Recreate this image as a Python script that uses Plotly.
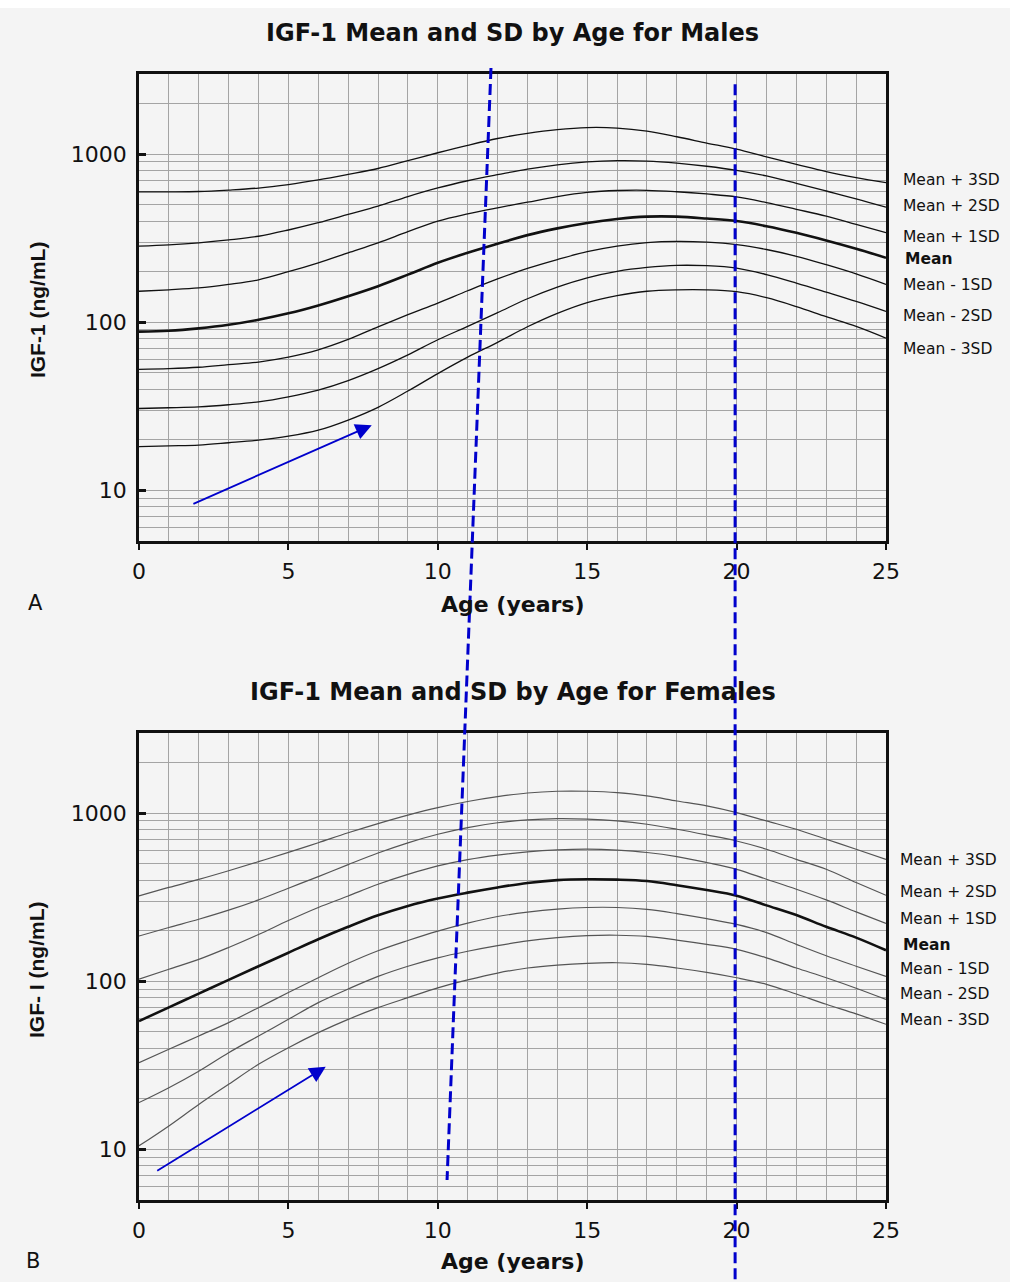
import plotly.graph_objects as go
import math

# ---------------- data ----------------
ages = list(range(0, 26))

male_p3 = [596, 597, 600, 612, 629, 660, 703, 758, 822, 915, 1020, 1130, 1240, 1330, 1400, 1440,
           1430, 1370, 1270, 1165, 1071, 964, 871, 788, 726, 678]
male_p2 = [284, 289, 297, 309, 325, 354, 391, 438, 491, 560, 630, 695, 755, 815, 865, 900,
           915, 910, 885, 848, 802, 742, 671, 604, 543, 484]
male_p1 = [153, 156, 160, 168, 179, 200, 226, 259, 297, 346, 400, 442, 480, 518, 559, 592,
           608, 610, 598, 580, 557, 515, 470, 428, 382, 341]
male_mean = [88, 89, 92, 96.6, 103.5, 113, 126, 143, 164, 192, 226, 259, 293, 330, 362, 390,
             412, 425, 425, 414, 400, 373, 341, 307, 274, 242]
male_m1 = [52.5, 53, 54, 56, 58, 62, 68.5, 79, 94, 111, 130, 154, 181, 209, 236, 263,
           284, 298, 303, 300, 290, 271, 247, 220, 194, 168]
male_m2 = [30.7, 31, 31.4, 32.3, 33.6, 36, 39.5, 45, 53, 64, 78.7, 94.5, 114, 138, 162, 184,
           201, 212, 218, 217, 210, 192, 171, 151, 133, 116]
male_m3 = [18.2, 18.4, 18.6, 19.2, 19.9, 21, 22.8, 26.2, 31.2, 39, 49.5, 62, 76, 94, 113, 131,
           144, 153, 156, 156, 152, 140, 124, 108, 94.5, 80.5]

female_p3 = [322, 362, 404, 455, 515, 585, 668, 765, 868, 975, 1080, 1175, 1255, 1320, 1352, 1352,
             1328, 1268, 1183, 1106, 1009, 900, 803, 700, 611, 532]
female_p2 = [186, 209, 234, 265, 305, 358, 420, 495, 580, 667, 750, 822, 878, 912, 928, 922,
             900, 860, 803, 743, 684, 611, 532, 464, 387, 325]
female_p1 = [103, 118, 135, 159, 190, 230, 275, 322, 378, 433, 486, 530, 564, 589, 605, 611,
             603, 584, 552, 509, 464, 405, 353, 305, 259, 221]
female_mean = [58, 70, 84.5, 102, 123, 148, 178, 211, 247, 281, 311, 337, 362, 385, 400, 405,
               403, 395, 373, 349, 323, 283, 248, 211, 182, 153]
female_m1 = [32.8, 39.4, 47.3, 56.8, 69.7, 85.7, 105, 128, 152, 175, 199, 222, 243, 258, 269, 275,
             275, 268, 253, 236, 218, 195, 166, 142, 123, 107]
female_m2 = [19, 23.3, 29.2, 37.6, 47.3, 59.4, 74.7, 90, 107, 123, 138, 151, 163, 174, 182, 187,
             188, 185, 176, 166, 155, 138, 120, 105, 91, 78]
female_m3 = [10.5, 13.8, 18.5, 24.4, 32.1, 40.3, 49.5, 59.4, 69.7, 80, 91.5, 102, 112, 120, 125, 128,
             129, 126, 120, 113, 105, 96, 84, 73, 64, 55.5]

series_names = ["Mean + 3SD", "Mean + 2SD", "Mean + 1SD", "Mean", "Mean - 1SD", "Mean - 2SD", "Mean - 3SD"]
male_series = [male_p3, male_p2, male_p1, male_mean, male_m1, male_m2, male_m3]
female_series = [female_p3, female_p2, female_p1, female_mean, female_m1, female_m2, female_m3]

x_tick_vals = [0, 5, 10, 15, 20, 25]
y_tick_vals = [10, 100, 1000]
y_minor_vals = [m * 10 ** e for e in range(0, 4) for m in range(1, 10) if 5 <= m * 10 ** e <= 3000]

# ---------------- styling ----------------
BG = "#f4f4f4"
GRID = "#a4a4a4"
BLUE = "#0000cc"
FONT = "DejaVu Sans"

fig = go.Figure()

for name, vals in zip(series_names, male_series):
    is_mean = name == "Mean"
    fig.add_trace(go.Scatter(x=ages, y=vals, mode="lines", line_shape="spline", name=name,
                             line=dict(color="#111111", width=2.6 if is_mean else 1.3, smoothing=1.0),
                             xaxis="x", yaxis="y", showlegend=False))
for name, vals in zip(series_names, female_series):
    is_mean = name == "Mean"
    fig.add_trace(go.Scatter(x=ages, y=vals, mode="lines", line_shape="spline", name=name,
                             line=dict(color="#111111" if is_mean else "#555555",
                                       width=2.6 if is_mean else 1.2, smoothing=1.0),
                             xaxis="x2", yaxis="y2", showlegend=False))

def xaxis_cfg(anchor):
    return dict(anchor=anchor, domain=[0, 1], range=[0, 25], tickvals=x_tick_vals,
                ticks="outside", ticklen=6, tickwidth=1.5, tickcolor="#111",
                showgrid=True, gridcolor=GRID, gridwidth=1,
                minor=dict(dtick=1, showgrid=True, gridcolor=GRID, gridwidth=1, ticks=""),
                showline=True, linecolor="#111", linewidth=2.5, mirror=True,
                tickfont=dict(family=FONT, size=22, color="#111"), ticklabelstandoff=3,
                zeroline=False)

def yaxis_cfg(anchor, domain):
    return dict(anchor=anchor, domain=domain, type="log",
                range=[math.log10(5), math.log10(3000)],
                tickvals=y_tick_vals, ticktext=[str(v) for v in y_tick_vals],
                ticks="inside", ticklen=7, tickwidth=3, tickcolor="#111",
                showgrid=True, gridcolor=GRID, gridwidth=1,
                minor=dict(tickvals=y_minor_vals, showgrid=True, gridcolor=GRID, gridwidth=1, ticks=""),
                showline=True, linecolor="#111", linewidth=2.5, mirror=True,
                tickfont=dict(family=FONT, size=22, color="#111"), ticklabelstandoff=5,
                zeroline=False)

fig.update_layout(
    width=1010, height=1282,
    margin=dict(l=139, r=124, t=74, b=82),
    paper_bgcolor=BG, plot_bgcolor=BG,
    showlegend=False,
    xaxis=xaxis_cfg("y"),
    yaxis=yaxis_cfg("x", [0.5853, 1.0]),
    xaxis2=xaxis_cfg("y2"),
    yaxis2=yaxis_cfg("x2", [0.0, 0.4147]),
)

annotations = []
# titles
annotations.append(dict(text="<b>IGF-1 Mean and SD by Age for Males</b>", xref="paper", yref="paper",
                        x=0.5, y=1.0365, xanchor="center", yanchor="middle", showarrow=False,
                        font=dict(family=FONT, size=24, color="#111")))
annotations.append(dict(text="<b>IGF-1 Mean and SD by Age for Females</b>", xref="paper", yref="paper",
                        x=0.5, y=0.4512, xanchor="center", yanchor="middle", showarrow=False,
                        font=dict(family=FONT, size=24, color="#111")))
# x-axis titles
for yy in [0.5293, -0.0542]:
    annotations.append(dict(text="<b>Age (years)</b>", xref="paper", yref="paper", x=0.5, y=yy,
                            xanchor="center", yanchor="middle", showarrow=False,
                            font=dict(family=FONT, size=22, color="#111")))
# y-axis titles
annotations.append(dict(text="<b>IGF-1 (ng/mL)</b>", xref="paper", yref="paper", x=-0.1365, y=0.7904,
                        xanchor="center", yanchor="middle", showarrow=False, textangle=-90,
                        font=dict(family="Liberation Sans", size=21, color="#111")))
annotations.append(dict(text="<b>IGF- I (ng/mL)</b>", xref="paper", yref="paper", x=-0.1365, y=0.2043,
                        xanchor="center", yanchor="middle", showarrow=False, textangle=-90,
                        font=dict(family="Liberation Sans", size=21, color="#111")))
# panel letters
annotations.append(dict(text="A", xref="paper", yref="paper", x=-0.139, y=0.5302, xanchor="center",
                        yanchor="middle", showarrow=False, font=dict(family=FONT, size=21, color="#111")))
annotations.append(dict(text="B", xref="paper", yref="paper", x=-0.142, y=-0.0542, xanchor="center",
                        yanchor="middle", showarrow=False, font=dict(family=FONT, size=21, color="#111")))

# right-hand series labels (y in log10 units)
label_y_male = [2.845, 2.690, 2.510, 2.379, 2.224, 2.039, 1.842]
label_y_female = [2.720, 2.530, 2.369, 2.214, 2.071, 1.923, 1.768]
for name, ly in zip(series_names, label_y_male):
    bold = name == "Mean"
    annotations.append(dict(text=f"<b>{name}</b>" if bold else name, xref="x", yref="y", x=25, y=ly,
                            xanchor="left", yanchor="middle", xshift=15 if not bold else 17, showarrow=False,
                            font=dict(family=FONT, size=15.5, color="#111")))
for name, ly in zip(series_names, label_y_female):
    bold = name == "Mean"
    annotations.append(dict(text=f"<b>{name}</b>" if bold else name, xref="x2", yref="y2", x=25, y=ly,
                            xanchor="left", yanchor="middle", xshift=12 if not bold else 15, showarrow=False,
                            font=dict(family=FONT, size=15.5, color="#111")))

# blue arrows
annotations.append(dict(text="", xref="x", yref="y", x=7.79, y=1.388, axref="x", ayref="y", ax=1.77, ay=0.916,
                        showarrow=True, arrowhead=2, arrowsize=1.8, arrowwidth=1.8, arrowcolor=BLUE, standoff=0))
annotations.append(dict(text="", xref="x2", yref="y2", x=6.25, y=1.492, axref="x2", ayref="y2", ax=0.56, ay=0.867,
                        showarrow=True, arrowhead=2, arrowsize=1.8, arrowwidth=1.8, arrowcolor=BLUE, standoff=0))

shapes = [
    # white strip at very top of image
    dict(type="rect", xref="paper", yref="paper", x0=-0.2, x1=1.2, y0=1.0586, y1=1.08,
         fillcolor="white", line=dict(width=0), layer="below"),
    # slanted dashed line across both panels
    dict(type="line", xref="x", yref="paper", x0=11.78, x1=10.31, y0=1.0053, y1=0.0178,
         line=dict(color=BLUE, width=3, dash="11px,5px")),
    # vertical dashed line at age 20
    dict(type="line", xref="x", yref="paper", x0=19.95, x1=19.95, y0=0.991, y1=-0.0728,
         line=dict(color=BLUE, width=3, dash="11px,5px")),
]

fig.update_layout(annotations=annotations, shapes=shapes)

fig.write_html("out.html")
